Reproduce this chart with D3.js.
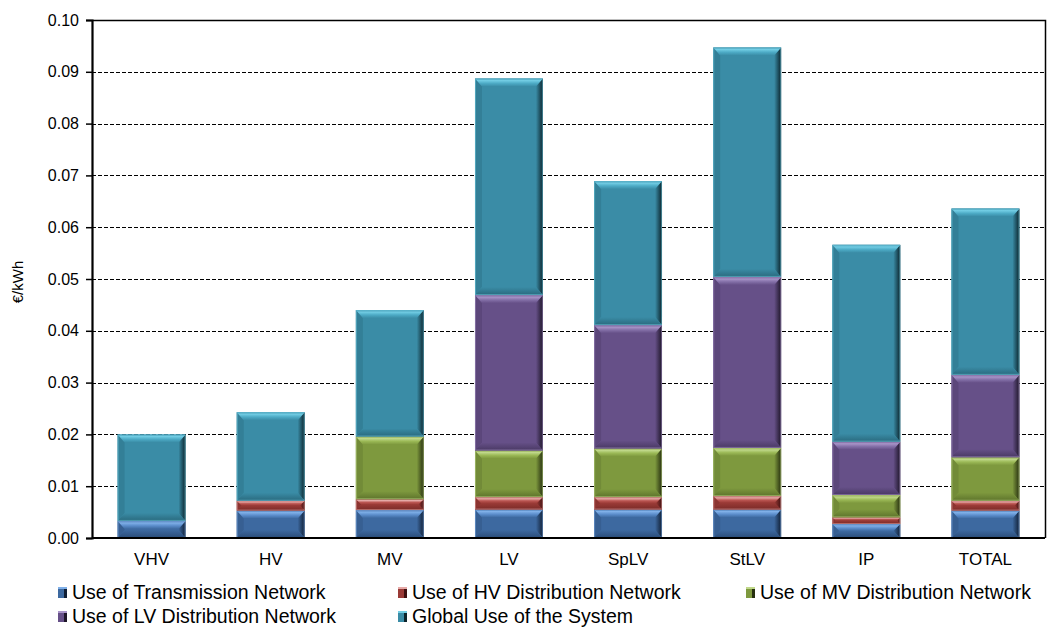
<!DOCTYPE html>
<html>
<head>
<meta charset="utf-8">
<script src="https://cdn.jsdelivr.net/npm/d3@7"></script>
<style>
  html, body { margin: 0; padding: 0; background: #fff; }
  svg text { font-family: "Liberation Sans", Arial, sans-serif; fill: #000; }
</style>
</head>
<body>
<svg id="chart" width="1048" height="627"></svg>
<script>
// Network access tariffs by voltage level, €/kWh
const categories = ["VHV", "HV", "MV", "LV", "SpLV", "StLV", "IP", "TOTAL"];
const transmission = [0.0033, 0.0053, 0.0054, 0.0055, 0.0055, 0.0055, 0.0027, 0.0053];
const hvDistribution = [0.0000, 0.0019, 0.0021, 0.0024, 0.0024, 0.0026, 0.0013, 0.0019];
const mvDistribution = [0.0000, 0.0000, 0.0121, 0.0090, 0.0094, 0.0093, 0.0043, 0.0084];
const lvDistribution = [0.0000, 0.0000, 0.0000, 0.0300, 0.0238, 0.0330, 0.0103, 0.0159];
const globalUse = [0.0167, 0.0171, 0.0244, 0.0418, 0.0278, 0.0443, 0.0380, 0.0321];
const seriesNames = [
  "Use of Transmission Network",
  "Use of HV Distribution Network",
  "Use of MV Distribution Network",
  "Use of LV Distribution Network",
  "Global Use of the System"
];
const yTicks = [0, 0.01, 0.02, 0.03, 0.04, 0.05, 0.06, 0.07, 0.08, 0.09, 0.10];

// bevel palette per series: face, top light, highlight line, left, bottom, right shade
const palettes = [
  { face: "#3d69a0", top: "#5b8dcb", hi: "#80b0e8", left: "#375f92", bottom: "#2a4c78", right: "#101f35" },
  { face: "#9a3a36", top: "#bb5652", hi: "#e6aaa8", left: "#8c3431", bottom: "#7a2b28", right: "#3e1010" },
  { face: "#7e993e", top: "#9bb956", hi: "#c0d88a", left: "#728b38", bottom: "#5e742c", right: "#262f0f" },
  { face: "#665088", top: "#8470a8", hi: "#a894c8", left: "#5c477b", bottom: "#4a3964", right: "#1e1629" },
  { face: "#3a8ca6", top: "#4dabc6", hi: "#72cde4", left: "#337f97", bottom: "#2a6a7e", right: "#0b242c" }
];

const svg = d3.select("#chart");
const margin = { left: 92, right: 1045, top: 20, bottom: 538 };

const x = d3.scaleBand()
  .domain(categories)
  .range([margin.left, margin.right])
  .paddingInner(0.43)
  .paddingOuter(0.215);

const y = d3.scaleLinear()
  .domain([0, 0.10])
  .range([margin.bottom, margin.top]);

// gradients for bevel facets
const defs = svg.append("defs");
palettes.forEach((p, i) => {
  const gt = defs.append("linearGradient").attr("id", "gt" + i)
    .attr("x1", 0).attr("y1", 0).attr("x2", 0).attr("y2", 1);
  gt.append("stop").attr("offset", "0%").attr("stop-color", p.face);
  gt.append("stop").attr("offset", "25%").attr("stop-color", p.hi);
  gt.append("stop").attr("offset", "60%").attr("stop-color", p.top);
  gt.append("stop").attr("offset", "100%").attr("stop-color", p.face);
  const gr = defs.append("linearGradient").attr("id", "gr" + i)
    .attr("x1", 0).attr("y1", 0).attr("x2", 1).attr("y2", 0);
  gr.append("stop").attr("offset", "0%").attr("stop-color", p.face);
  gr.append("stop").attr("offset", "100%").attr("stop-color", p.right);
  const gb = defs.append("linearGradient").attr("id", "gb" + i)
    .attr("x1", 0).attr("y1", 0).attr("x2", 0).attr("y2", 1);
  gb.append("stop").attr("offset", "0%").attr("stop-color", p.face);
  gb.append("stop").attr("offset", "100%").attr("stop-color", p.bottom);
});

// gridlines
const grid = svg.append("g");
grid.selectAll("line")
  .data(yTicks.filter(d => d > 0))
  .join("line")
  .attr("x1", margin.left).attr("x2", margin.right)
  .attr("y1", d => Math.round(y(d)) + 0.5).attr("y2", d => Math.round(y(d)) + 0.5)
  .attr("stroke", "#000").attr("stroke-width", 1)
  .attr("stroke-dasharray", "4,2");

// plot frame (top and right)
svg.append("path")
  .attr("d", `M${margin.left},${margin.top + 0.5}H${margin.right + 0.5}V${margin.bottom}`)
  .attr("fill", "none").attr("stroke", "#000").attr("stroke-width", 1.5);

// stacked data
const seriesValues = [transmission, hvDistribution, mvDistribution, lvDistribution, globalUse];
const rows = categories.map((c, i) => {
  const r = { cat: c };
  seriesValues.forEach((s, k) => r["s" + k] = s[i]);
  return r;
});
const stack = d3.stack().keys(seriesValues.map((_, k) => "s" + k));
const stacked = stack(rows);

function bevelBar(g, x0, x1, y0, y1, k) {
  const p = palettes[k];
  const w = x1 - x0, h = y1 - y0;
  if (h <= 0.2) return;
  const b = Math.max(0, Math.min(8, h / 2, w / 2));
  const bs = Math.min(b, 7);
  g.append("rect").attr("x", x0).attr("y", y0).attr("width", w).attr("height", h)
    .attr("fill", p.face);
  // left facet
  g.append("polygon")
    .attr("points", `${x0},${y0} ${x0 + bs},${y0 + b} ${x0 + bs},${y1 - b} ${x0},${y1}`)
    .attr("fill", p.left);
  // right facet
  g.append("polygon")
    .attr("points", `${x1},${y0} ${x1 - bs},${y0 + b} ${x1 - bs},${y1 - b} ${x1},${y1}`)
    .attr("fill", `url(#gr${k})`);
  // bottom facet
  g.append("polygon")
    .attr("points", `${x0},${y1} ${x0 + bs},${y1 - b} ${x1 - bs},${y1 - b} ${x1},${y1}`)
    .attr("fill", `url(#gb${k})`);
  // top facet
  g.append("polygon")
    .attr("points", `${x0},${y0} ${x1},${y0} ${x1 - bs},${y0 + b} ${x0 + bs},${y0 + b}`)
    .attr("fill", `url(#gt${k})`);
  // thin light rim
  g.append("rect").attr("x", x0 + 0.5).attr("y", y0 + 0.5)
    .attr("width", Math.max(0, w - 1)).attr("height", Math.max(0, h - 1))
    .attr("fill", "none").attr("stroke", p.hi).attr("stroke-opacity", 0.5).attr("stroke-width", 1);
}

const bars = svg.append("g");
stacked.forEach((layer, k) => {
  layer.forEach(d => {
    const cat = d.data.cat;
    const x0 = x(cat), x1 = x(cat) + x.bandwidth();
    bevelBar(bars.append("g"), x0, x1, y(d[1]), y(d[0]), k);
  });
});

// axes
const yAxis = svg.append("g")
  .attr("transform", `translate(${margin.left},0)`)
  .call(d3.axisLeft(y).tickValues(yTicks).tickFormat(d3.format(".2f")).tickSize(6).tickPadding(7));
yAxis.select(".domain").attr("stroke", "#000").attr("stroke-width", 2.2);
yAxis.selectAll(".tick line").attr("stroke", "#000").attr("stroke-width", 1.5);
yAxis.selectAll(".tick text").attr("font-size", 16).attr("font-family", "Liberation Sans, Arial, sans-serif");

const xAxis = svg.append("g")
  .attr("transform", `translate(0,${margin.bottom})`)
  .call(d3.axisBottom(x).tickSize(0).tickPadding(15));
xAxis.select(".domain").attr("stroke", "#000").attr("stroke-width", 2.2)
  .attr("d", `M${margin.left},0H${margin.right}`);
xAxis.selectAll(".tick text").attr("font-size", 17).attr("font-family", "Liberation Sans, Arial, sans-serif");

// y axis title
svg.append("text")
  .attr("transform", "translate(23,282) rotate(-90)")
  .attr("text-anchor", "middle")
  .attr("font-size", 15)
  .text("€/kWh");

// legend
const legendPos = [
  { x: 58, y: 592 }, { x: 398, y: 592 }, { x: 746, y: 592 },
  { x: 58, y: 616 }, { x: 398, y: 616 }
];
const legend = svg.append("g");
seriesNames.forEach((name, k) => {
  const pos = legendPos[k];
  const g = legend.append("g").attr("transform", `translate(${pos.x},${pos.y})`);
  const p = palettes[k];
  g.append("rect").attr("x", 0).attr("y", -5).attr("width", 9).attr("height", 11).attr("fill", p.face);
  g.append("rect").attr("x", 6).attr("y", -5).attr("width", 3).attr("height", 11).attr("fill", p.right);
  g.append("rect").attr("x", 0).attr("y", -5).attr("width", 9).attr("height", 2).attr("fill", p.hi);
  g.append("text").attr("x", 14).attr("y", 0).attr("dy", "0.35em")
    .attr("font-size", 19.5).text(name);
});
</script>
</body>
</html>
